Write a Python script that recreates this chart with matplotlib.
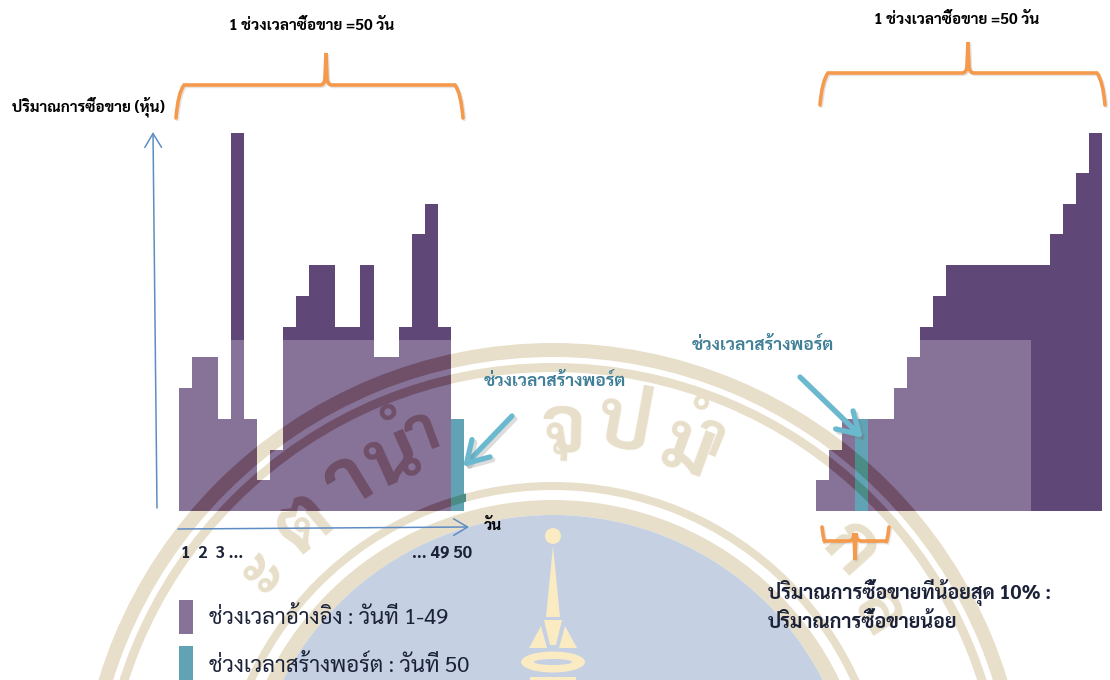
import numpy as np
import matplotlib
matplotlib.use("Agg")
import matplotlib.pyplot as plt
import matplotlib.patheffects as pe
from matplotlib.font_manager import FontProperties
from matplotlib.patches import Circle, Ellipse, PathPatch, Polygon, Rectangle, Wedge
from matplotlib.path import Path
from matplotlib.textpath import TextPath
from matplotlib.transforms import Affine2D

plt.rcParams['font.family'] = ['Sarabun', 'Noto Sans Thai', 'DejaVu Sans']

# Trading volume per bar, left panel (days in order) and right panel (sorted)
left_values = [4, 5, 5, 3, 12.3, 3, 1, 2, 6, 7, 8, 8, 6, 6, 8, 5, 5, 6, 9, 10, 6]
left_teal = [3]
right_values = [1, 2, 3, 3, 3, 3, 4, 5, 6, 7, 8, 8, 8, 8, 8, 8, 8, 8, 9, 10, 11, 12.3]
right_teal_index = 3
right_teal = [3]
light_cap = 5.55
right_light_bars = 16.5

label_period = "1 ช่วงเวลาซื้อขาย =50 วัน"
label_y = "ปริมาณการซื้อขาย (หุ้น)"
label_x = "วัน"
label_build = "ช่วงเวลาสร้างพอร์ต"
legend_labels = ["ช่วงเวลาอ้างอิง : วันที่ 1-49", "ช่วงเวลาสร้างพอร์ต : วันที่ 50"]
bottom_labels = ["ปริมาณการซื้อขายที่น้อยสุด 10% :", "ปริมาณการซื้อขายน้อย"]

DARK = '#5F4778'
LIGHT = '#877298'
TEAL = '#61A3B5'
ARROW = '#6BB9CE'
ORANGE = '#F59A4C'
TAN = '#E8DFCA'
BLUE = '#C5D0E3'
CREAM = '#FBEBC3'
AXIS = '#5E8DC4'
INK = '#1B2238'
SEAL_ON_PURPLE = '#6F5068'
SEAL_ON_TEAL = '#4B8C86'

W, H = 1110, 680
BASE = 511
UNIT = 30.75
SEAL_X, SEAL_Y = 553, 818
RINGS = [(475, 14), (455, 9), (336, 8), (318, 15)]
# watermark letters: char, centre x, centre y, size
GLYPHS = [("ะ", 262, 572, 44), ("ต", 302, 522, 58), ("า", 346, 482, 58), ("น", 392, 458, 58),
          ("ำ", 412, 436, 46), ("จ", 563, 428, 56), ("ุ", 572, 418, 46), ("ป", 625, 424, 58),
          ("ม", 688, 448, 58), ("ำ", 712, 430, 42), ("ก", 852, 548, 56), ("ล", 880, 612, 50)]

fig = plt.figure(figsize=(W / 100, H / 100), dpi=100)


def pixel_axes(z):
    a = fig.add_axes([0, 0, 1, 1], zorder=z)
    a.set_xlim(0, W)
    a.set_ylim(H, 0)
    a.axis('off')
    return a


def chart_axes(x0, bar_w, n):
    top = 12.6
    a = fig.add_axes([x0 / W, 1 - BASE / H, bar_w * n / W, top * UNIT / H], zorder=1)
    a.set_xlim(0, n)
    a.set_ylim(0, top)
    a.axis('off')
    return a


def glyph_anchor(x, y, s):
    # baseline point of a letter whose middle sits on (x, y), turned along the arc
    rot = -np.degrees(np.arctan2(x - SEAL_X, SEAL_Y - y))
    drop = 0.3 * s * 100 / 72
    return x + drop * np.sin(np.radians(rot)), y + drop * np.cos(np.radians(rot)), rot


def seal_under(a):
    for r, w in RINGS:
        a.add_patch(Wedge((SEAL_X, SEAL_Y), r, 0, 360, width=w, fc=TAN, ec='none'))
    for ch, x, y, s in GLYPHS:
        bx, by, rot = glyph_anchor(x, y, s)
        a.text(bx, by, ch, color=TAN, fontsize=s, fontweight='bold', rotation=rot,
               ha='center', va='baseline', rotation_mode='anchor')


def seal_over(a, color, clip, transform):
    # same watermark, darker, only where it crosses the bars (agg cannot clip text to a path)
    items = []
    for r, w in RINGS:
        items.append(a.add_patch(Wedge((SEAL_X, SEAL_Y), r, 0, 360, width=w, fc=color, ec='none')))
    fp = FontProperties(family=['Sarabun', 'Noto Sans Thai'], weight='bold')
    for ch, x, y, s in GLYPHS:
        bx, by, rot = glyph_anchor(x, y, s)
        tp = TextPath((0, 0), ch, size=s * 100 / 72, prop=fp)
        mid = tp.get_extents().x0 + tp.get_extents().width / 2
        tr = Affine2D().translate(-mid, 0).rotate_deg(rot).scale(1, -1).translate(bx, by)
        items.append(a.add_patch(PathPatch(tp.transformed(tr), fc=color, ec='none')))
    for it in items:
        it.set_clip_path(clip, transform)


def rects_path(xs, tops, widths):
    verts = []
    codes = []
    for x, t, w in zip(xs, tops, widths):
        verts += [(x, 0), (x + w, 0), (x + w, t), (x, t), (x, 0)]
        codes += [Path.MOVETO, Path.LINETO, Path.LINETO, Path.LINETO, Path.CLOSEPOLY]
    return Path(verts, codes)


def brace(a, xl, xr, xm, y_end, y_bar, y_tip, r=8):
    verts = [(xl, y_end), (xl + 2, y_bar + r), (xl + r, y_bar), (xm - 6, y_bar), (xm - 1, y_bar),
             (xm - 1, y_bar - 8), (xm, y_tip), (xm + 1, y_bar - 8), (xm + 1, y_bar), (xm + 6, y_bar),
             (xr - r, y_bar), (xr - 2, y_bar + r), (xr, y_end)]
    codes = [Path.MOVETO, Path.CURVE3, Path.CURVE3, Path.LINETO, Path.CURVE3, Path.CURVE3,
             Path.LINETO, Path.LINETO, Path.CURVE3, Path.CURVE3, Path.LINETO, Path.CURVE3, Path.CURVE3]
    a.add_patch(PathPatch(Path(verts, codes), fc='none', ec=ORANGE, lw=2.6, capstyle='round',
                          path_effects=[pe.SimpleLineShadow(offset=(1, -1), shadow_color='#999999', alpha=0.25),
                                        pe.Normal()]))


def arrow(a, tail, tip, color, lw, scale, effects=None):
    a.annotate("", xy=tip, xytext=tail,
               arrowprops=dict(arrowstyle='->,head_length=0.5,head_width=0.3', color=color, lw=lw,
                               mutation_scale=scale, shrinkA=0, shrinkB=0, path_effects=effects))


# Watermark under everything
bg = pixel_axes(0)
seal_under(bg)
bg.add_patch(Circle((SEAL_X, SEAL_Y), 303, fc=BLUE, ec='none'))
bg.add_patch(Circle((553, 536), 8, fc=CREAM, ec='none'))
bg.add_patch(Polygon([(553, 546), (560, 617), (546, 617)], fc=CREAM, ec='none'))
bg.add_patch(Polygon([(544, 620), (562, 620), (556, 645), (550, 645)], fc=CREAM, ec='none'))
bg.add_patch(Polygon([(541, 626), (547, 648), (529, 648)], fc=CREAM, ec='none'))
bg.add_patch(Polygon([(565, 626), (577, 648), (559, 648)], fc=CREAM, ec='none'))
bg.add_patch(Ellipse((553, 662), 64, 21, fc=CREAM, ec='none'))
bg.add_patch(Ellipse((553, 662), 38, 6, fc=BLUE, ec='none'))
bg.add_patch(Rectangle((530, 677), 46, 3, fc=CREAM, ec='none'))

# Left panel
ax_l = chart_axes(178.7, 12.98, 22)
x_l = np.arange(len(left_values))
ax_l.bar(x_l, left_values, width=1.01, align='edge', color=DARK, antialiased=False)
ax_l.bar(x_l, np.minimum(left_values, light_cap), width=1.01, align='edge', color=LIGHT, antialiased=False)
ax_l.bar([len(left_values)], left_teal, width=1.1, align='edge', color=TEAL, antialiased=False)

# Right panel
ax_r = chart_axes(816.3, 13.0, 22)
x_r = np.arange(len(right_values))
right_w = np.ones(len(x_r)) * 1.01
right_w[-1] = 1.25
ax_r.bar(x_r, right_values, width=right_w, align='edge', color=DARK, antialiased=False)
n_light = int(np.ceil(right_light_bars))
light_w = np.minimum(right_light_bars - x_r[:n_light], 1.01)
ax_r.bar(x_r[:n_light], np.minimum(right_values[:n_light], light_cap), width=light_w, align='edge',
         color=LIGHT, antialiased=False)
ax_r.bar([right_teal_index], right_teal, width=1, align='edge', color=TEAL, antialiased=False)

# Layer on top: watermark seen through the bars, annotations, text
top = pixel_axes(2)
seal_over(top, SEAL_ON_PURPLE, rects_path(x_l, left_values, np.ones(len(x_l))), ax_l.transData)
seal_over(top, SEAL_ON_TEAL, rects_path([len(left_values)], left_teal, [1.1]), ax_l.transData)
others = [i for i in x_r if i != right_teal_index]
seal_over(top, SEAL_ON_PURPLE, rects_path(others, [right_values[i] for i in others], np.ones(len(others))),
          ax_r.transData)
seal_over(top, SEAL_ON_TEAL, rects_path([right_teal_index], right_teal, [1]), ax_r.transData)

arrow(top, (157, 508), (153, 132), AXIS, 1.1, 20)
arrow(top, (178, 529), (469, 527), AXIS, 1.1, 20)

brace(top, 176, 463, 326, 118, 85, 53)
brace(top, 820, 1105, 968, 105, 73, 42)
brace(top, 822, 889, 855, 527, 541, 560, r=3)

shadow = [pe.SimpleLineShadow(offset=(2, -2), shadow_color='#777777', alpha=0.25), pe.Normal()]
arrow(top, (512, 416), (463, 467), ARROW, 3.8, 30, shadow)
arrow(top, (800, 377), (863, 438), ARROW, 3.8, 30, shadow)

top.text(312, 26, label_period, fontsize=11, fontweight='bold', color='black', ha='center', va='center')
top.text(957, 20, label_period, fontsize=11, fontweight='bold', color='black', ha='center', va='center')
top.text(12, 107, label_y, fontsize=11, fontweight='bold', color='black', ha='left', va='center')
top.text(484, 526, label_x, fontsize=11, fontweight='bold', color='black', ha='left', va='center')
top.text(181, 553, "1  2  3 ...", fontsize=12, fontweight='bold', color=INK, ha='left', va='center')
top.text(412, 553, "... 49 50", fontsize=12, fontweight='bold', color=INK, ha='left', va='center')
top.text(484, 382, label_build, fontsize=12.5, fontweight='bold', color='#3F7F97', ha='left', va='center')
top.text(692, 345, label_build, fontsize=12.5, fontweight='bold', color='#3F7F97', ha='left', va='center')

top.add_patch(Rectangle((179, 600), 14, 34, fc=LIGHT, ec='none'))
top.add_patch(Rectangle((179, 646), 14, 34, fc=TEAL, ec='none'))
top.text(209, 618, legend_labels[0], fontsize=16, color=INK, ha='left', va='center')
top.text(209, 666, legend_labels[1], fontsize=16, color=INK, ha='left', va='center')
top.text(768, 592, bottom_labels[0], fontsize=14.2, fontweight='bold', color=INK, ha='left', va='center')
top.text(768, 622, bottom_labels[1], fontsize=14.2, fontweight='bold', color=INK, ha='left', va='center')

plt.savefig("out.png", dpi=100)
